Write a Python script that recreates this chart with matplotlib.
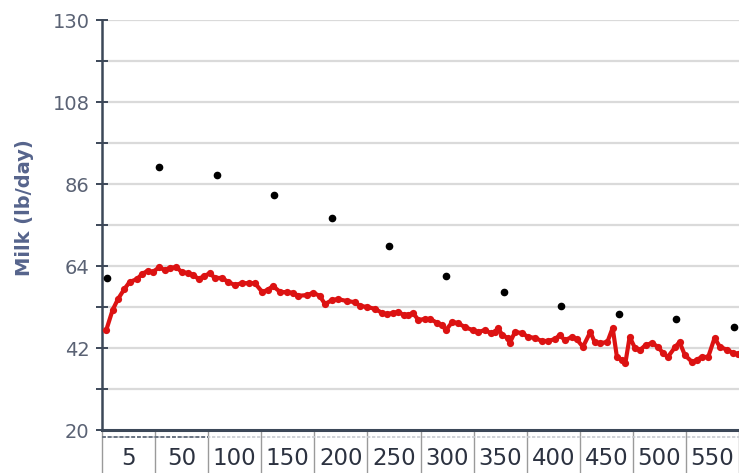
import matplotlib
matplotlib.use("Agg")
import matplotlib.pyplot as plt
from matplotlib.ticker import FixedLocator, NullFormatter, FixedFormatter

# Test-day weights (black dots)
test_dim = [5, 54, 108, 162, 217, 270, 324, 379, 432, 487, 541, 595]
test_milk = [60.8, 90.6, 88.4, 83.1, 76.9, 69.4, 61.3, 57.0, 53.3, 51.1, 49.8, 47.6]

# Daily milk (red line)
daily_dim = [4, 10, 15, 21, 26, 33, 38, 43, 48, 54, 59, 64, 70, 75, 81, 86, 91, 96,
             102, 106, 113, 119, 125, 132, 138, 144, 151, 156, 161, 168, 174, 180,
             185, 193, 199, 205, 210, 217, 222, 231, 238, 243, 250, 257, 264, 268,
             274, 279, 284, 288, 293, 298, 304, 309, 316, 320, 324, 330, 335, 342,
             349, 354, 361, 366, 370, 373, 377, 382, 384, 389, 396, 401, 408, 414,
             420, 427, 431, 436, 443, 447, 453, 460, 464, 469, 476, 481, 485, 490,
             493, 497, 502, 507, 512, 518, 524, 528, 533, 540, 544, 549, 556, 560,
             565, 571, 577, 582, 589, 594, 599]
daily_milk = [46.8, 52.2, 55.1, 57.8, 59.7, 60.5, 61.9, 62.7, 62.4, 63.7, 62.9, 63.5,
              63.7, 62.4, 62.1, 61.6, 60.5, 61.3, 62.1, 60.8, 60.8, 59.7, 58.9, 59.4,
              59.4, 59.4, 57.0, 57.6, 58.6, 57.0, 57.0, 56.8, 56.0, 56.2, 56.8, 56.0,
              53.8, 54.9, 55.1, 54.6, 54.3, 53.3, 53.0, 52.5, 51.4, 51.1, 51.4, 51.7,
              50.9, 50.9, 51.4, 49.5, 49.8, 49.8, 48.7, 48.2, 46.8, 49.0, 48.7, 47.6,
              46.8, 46.3, 46.8, 46.0, 46.3, 47.4, 45.5, 44.7, 43.3, 46.3, 46.0, 45.0,
              44.7, 43.9, 43.9, 44.4, 45.5, 44.1, 45.0, 44.4, 42.3, 46.3, 43.6, 43.3,
              43.6, 47.4, 39.6, 38.8, 38.0, 45.0, 42.0, 41.5, 42.8, 43.3, 42.3, 40.7,
              39.6, 42.3, 43.6, 40.1, 38.2, 38.8, 39.6, 39.6, 44.7, 42.3, 41.5, 40.7,
              40.4]

# x axis boxes
box_edges = [0, 50, 100, 150, 200, 250, 300, 350, 400, 450, 500, 550, 600]
box_labels = ["5", "50", "100", "150", "200", "250", "300", "350", "400", "450", "500", "550"]

y_major = [20, 42, 64, 86, 108, 130]
y_minor = [31, 53, 75, 97, 119]

fig = plt.figure(figsize=(7.39, 4.73), dpi=100)
ax = fig.add_axes([102 / 739, 43 / 473, 637 / 739, 410 / 473])

# gridlines under everything
for v in y_major[1:] + y_minor:
    ax.axhline(v, color="#dadada", lw=1.6, zorder=0)

ax.plot(daily_dim, daily_milk, color="#dc1212", lw=3.0, marker="o", ms=5.2,
        markeredgewidth=0, zorder=3)
ax.plot(test_dim, test_milk, "o", color="black", ms=4.5, zorder=4)

ax.set_xlim(0, 600)
ax.set_ylim(20, 130)

for side in ["top", "right"]:
    ax.spines[side].set_visible(False)
ax.spines["left"].set_color("#3c4858")
ax.spines["left"].set_linewidth(1.8)
ax.spines["bottom"].set_color("#3c4858")
ax.spines["bottom"].set_linewidth(2.2)

# y ticks
ax.yaxis.set_major_locator(FixedLocator(y_major))
ax.yaxis.set_minor_locator(FixedLocator(y_minor))
ax.tick_params(axis="y", which="both", direction="inout", length=8, width=1.4,
               color="#3c4858", pad=5, labelsize=14, labelcolor="#5a6274")

# x ticks: separators as major ticks, labels in the middle of each box
centers = [(a + b) / 2 for a, b in zip(box_edges[:-1], box_edges[1:])]
ax.xaxis.set_major_locator(FixedLocator(box_edges))
ax.xaxis.set_major_formatter(NullFormatter())
ax.xaxis.set_minor_locator(FixedLocator(centers))
ax.xaxis.set_minor_formatter(FixedFormatter(box_labels))
ax.tick_params(axis="x", which="major", direction="out", length=32, width=1.0,
               color="#9a9a9a")
ax.tick_params(axis="x", which="minor", length=0, pad=12, labelsize=16.5,
               labelcolor="#2c3240")

# thin dashed band under the axis
ax.plot([0, 1], [-0.016, -0.016], transform=ax.transAxes, color="#c8ccd2",
        lw=1.2, ls=(0, (2, 1)), clip_on=False)
ax.plot([0, 100 / 600], [-0.016, -0.016], transform=ax.transAxes, color="#6a7482",
        lw=1.4, ls=(0, (2, 1)), clip_on=False)

fig.text(25 / 739, 1 - 208 / 473, "Milk (lb/day)", rotation=90, ha="center",
         va="center", fontsize=14, color="#56648c", fontweight="semibold")

plt.savefig("out.png", dpi=100)
